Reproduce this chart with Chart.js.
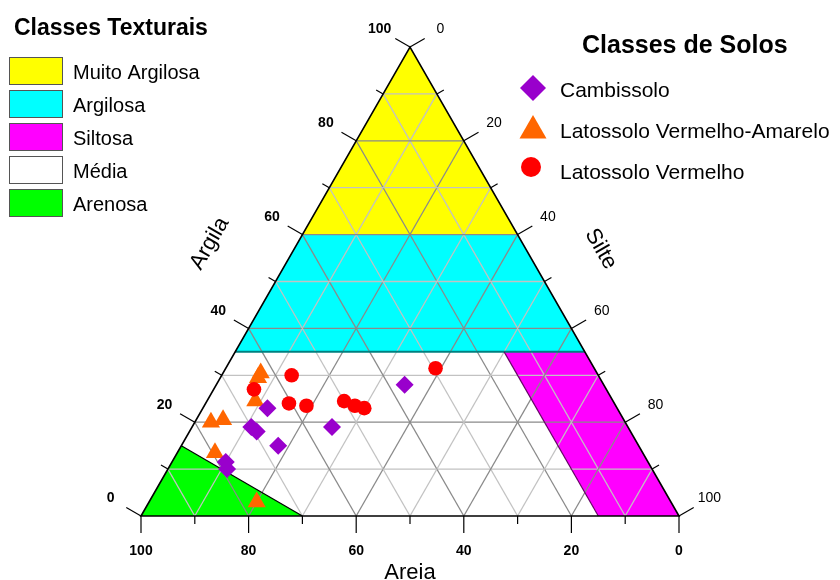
<!DOCTYPE html>
<html>
<head>
<meta charset="utf-8">
<script src="https://cdn.jsdelivr.net/npm/chart.js@4/dist/chart.umd.min.js"></script>
<style>
html, body { margin: 0; padding: 0; background: #fff; }
#wrap { width: 840px; height: 580px; }
</style>
</head>
<body>
<div id="wrap"><canvas id="myChart" width="840" height="580"></canvas></div>
<script>
// soil samples, % of Areia / Silte / Argila
var cambAreia  = [37, 65, 70, 69.5, 67, 55, 78.5, 79];
var cambSilte  = [35, 12, 11, 12.5, 18, 26, 10, 11];
var cambArgila = [28, 23, 19, 18, 15, 19, 11.5, 10];

var lvaAreia  = [62.5, 63.5, 66.5, 77, 74.5, 79.5, 77];
var lvaSilte  = [7, 7, 9, 3, 5, 7, 20];
var lvaArgila = [30.5, 29.5, 24.5, 20, 20.5, 13.5, 3];

var lvAreia  = [57, 65.5, 60.5, 57.5, 50, 48.5, 47, 29.5];
var lvSilte  = [13, 7.5, 15.5, 19, 25.5, 28, 30, 39];
var lvArgila = [30, 27, 24, 23.5, 24.5, 23.5, 23, 31.5];

var soilClasses = ['Cambissolo', 'Latossolo Vermelho-Amarelo', 'Latossolo Vermelho'];
var soilColors = ['#9900CC', '#FF6600', '#FF0000'];

// textural classes, corners as [areia, silte, argila]
var classNames = ['Muito Argilosa', 'Argilosa', 'Siltosa', 'Média', 'Arenosa'];
var classColors = ['#FFFF00', '#00FFFF', '#FF00FF', '#FFFFFF', '#00FF00'];
var classShapes = [
    [[40, 0, 60], [0, 40, 60], [0, 0, 100]],
    [[65, 0, 35], [0, 65, 35], [0, 40, 60], [40, 0, 60]],
    [[15, 85, 0], [0, 100, 0], [0, 65, 35], [15, 50, 35]],
    [[70, 30, 0], [15, 85, 0], [15, 50, 35], [65, 0, 35], [85, 0, 15]],
    [[100, 0, 0], [70, 30, 0], [85, 0, 15]]
];

var tickValues = [0, 10, 20, 30, 40, 50, 60, 70, 80, 90, 100];

function toXY(areia, silte, argila) {
    var pts = [];
    for (var i = 0; i < areia.length; i++) {
        pts.push({ x: silte[i] + argila[i] / 2, y: argila[i] });
    }
    return pts;
}

// chart.js keeps ~10.5px round the plot for the biggest marker
var inset = 10.5;
var xMin = -(141 - inset) / 5.38, xMax = (840 - inset - 141) / 5.38;
var yMin = -(580 - inset - 516) / 4.69, yMax = (516 - inset) / 4.69;

var ternary = {
    id: 'ternary',
    beforeDatasetsDraw: function(chart) {
        var ctx = chart.ctx, xs = chart.scales.x, ys = chart.scales.y;
        function p(a, s, c) { return [xs.getPixelForValue(s + c / 2), ys.getPixelForValue(c)]; }
        function line(q1, q2) {
            ctx.beginPath(); ctx.moveTo(q1[0], q1[1]); ctx.lineTo(q2[0], q2[1]); ctx.stroke();
        }
        ctx.save();
        // class areas
        classShapes.forEach(function(shape, i) {
            ctx.beginPath();
            shape.forEach(function(c, j) {
                var q = p(c[0], c[1], c[2]);
                if (j === 0) ctx.moveTo(q[0], q[1]); else ctx.lineTo(q[0], q[1]);
            });
            ctx.closePath();
            ctx.fillStyle = classColors[i];
            ctx.fill();
        });
        // grid
        ctx.lineWidth = 1.3;
        for (var k = 10; k < 100; k += 10) {
            ctx.strokeStyle = (k % 20 === 0) ? '#8a8a8a' : '#c2c2c2';
            line(p(100 - k, 0, k), p(0, 100 - k, k));
            line(p(100 - k, k, 0), p(0, k, 100 - k));
            line(p(k, 100 - k, 0), p(k, 0, 100 - k));
        }
        // class borders
        ctx.lineWidth = 2;
        ctx.strokeStyle = '#008080';
        line(p(65, 0, 35), p(0, 65, 35));
        ctx.lineWidth = 1.2;
        ctx.strokeStyle = '#660066';
        line(p(15, 85, 0), p(15, 50, 35));
        ctx.strokeStyle = '#000';
        line(p(70, 30, 0), p(85, 0, 15));
        // outer triangle
        ctx.lineWidth = 1.6;
        ctx.strokeStyle = '#000';
        var A = p(100, 0, 0), B = p(0, 100, 0), C = p(0, 0, 100);
        ctx.beginPath(); ctx.moveTo(A[0], A[1]); ctx.lineTo(B[0], B[1]); ctx.lineTo(C[0], C[1]); ctx.closePath(); ctx.stroke();
        // ticks and labels
        var nL = [-0.866, -0.5], nR = [0.866, -0.5], nB = [0, 1];
        ctx.lineWidth = 1.2;
        ctx.textAlign = 'center';
        ctx.textBaseline = 'middle';
        ctx.fillStyle = '#000';
        tickValues.forEach(function(v) {
            var len = (v % 20 === 0) ? 17 : 8;
            var qb = p(v, 100 - v, 0);
            var ql = p(100 - v, 0, v);
            var qr = p(0, v, 100 - v);
            [[qb, nB], [ql, nL], [qr, nR]].forEach(function(t) {
                line(t[0], [t[0][0] + t[1][0] * len, t[0][1] + t[1][1] * len]);
            });
            if (v % 20 === 0) {
                ctx.font = 'bold 14px "Liberation Sans", Arial, sans-serif';
                ctx.fillText(String(v), qb[0], qb[1] + 35);
                ctx.fillText(String(v), ql[0] + nL[0] * 35, ql[1] + nL[1] * 35);
                ctx.font = '14px "Liberation Sans", Arial, sans-serif';
                ctx.fillText(String(v), qr[0] + nR[0] * 35, qr[1] + nR[1] * 35);
            }
        });
        // axis titles
        ctx.font = '22px "Liberation Sans", Arial, sans-serif';
        var mb = p(50, 50, 0);
        ctx.textBaseline = 'alphabetic';
        ctx.fillText('Areia', mb[0], 579);
        ctx.textBaseline = 'middle';
        var ml = p(50, 0, 50);
        ctx.save();
        ctx.translate(ml[0] + nL[0] * 76, ml[1] + nL[1] * 76);
        ctx.rotate(-Math.PI / 3);
        ctx.fillText('Argila', 0, 0);
        ctx.restore();
        var mr = p(0, 50, 50);
        ctx.save();
        ctx.translate(mr[0] + nR[0] * 65, mr[1] + nR[1] * 65);
        ctx.rotate(Math.PI / 3);
        ctx.fillText('Silte', 0, 0);
        ctx.restore();
        ctx.restore();
    },
    afterDraw: function(chart) {
        var ctx = chart.ctx;
        ctx.save();
        ctx.fillStyle = '#000';
        ctx.textAlign = 'left';
        ctx.textBaseline = 'alphabetic';
        ctx.font = 'bold 23px "Liberation Sans", Arial, sans-serif';
        ctx.fillText('Classes Texturais', 14, 35);
        ctx.font = '20px "Liberation Sans", Arial, sans-serif';
        classNames.forEach(function(name, i) {
            var top = 57.5 + i * 33;
            ctx.fillStyle = classColors[i];
            ctx.fillRect(9.5, top, 53, 27);
            ctx.strokeStyle = '#555';
            ctx.lineWidth = 1;
            ctx.strokeRect(9.5, top, 53, 27);
            ctx.fillStyle = '#000';
            ctx.fillText(name, 73, top + 21);
        });
        ctx.font = 'bold 25px "Liberation Sans", Arial, sans-serif';
        ctx.fillText('Classes de Solos', 582, 53);
        ctx.font = '21px "Liberation Sans", Arial, sans-serif';
        var ys = [97, 138, 179];
        soilClasses.forEach(function(name, i) {
            ctx.fillStyle = soilColors[i];
            ctx.beginPath();
            if (i === 0) {
                ctx.moveTo(533, 75); ctx.lineTo(546, 88); ctx.lineTo(533, 101); ctx.lineTo(520, 88);
            } else if (i === 1) {
                ctx.moveTo(533, 115); ctx.lineTo(546.5, 138.5); ctx.lineTo(519.5, 138.5);
            } else {
                ctx.arc(531, 167, 10, 0, Math.PI * 2);
            }
            ctx.closePath();
            ctx.fill();
            ctx.fillStyle = '#000';
            ctx.fillText(name, 560, ys[i]);
        });
        ctx.restore();
    }
};

var ctx = document.getElementById('myChart').getContext('2d');
var myChart = new Chart(ctx, {
    type: 'scatter',
    data: {
        datasets: [{
            label: soilClasses[2],
            data: toXY(lvAreia, lvSilte, lvArgila),
            pointStyle: 'circle',
            pointRadius: 7.3,
            pointHoverRadius: 7.3,
            backgroundColor: soilColors[2],
            borderWidth: 0,
            order: 0
        }, {
            label: soilClasses[0],
            data: toXY(cambAreia, cambSilte, cambArgila),
            pointStyle: 'rectRot',
            pointRadius: 9,
            pointHoverRadius: 9,
            backgroundColor: soilColors[0],
            borderWidth: 0,
            order: 1
        }, {
            label: soilClasses[1],
            data: toXY(lvaAreia, lvaSilte, lvaArgila),
            pointStyle: 'triangle',
            pointRadius: 10.5,
            pointHoverRadius: 10.5,
            backgroundColor: soilColors[1],
            borderWidth: 0,
            order: 2
        }]
    },
    options: {
        responsive: false,
        animation: false,
        layout: { padding: 0 },
        plugins: { legend: { display: false }, tooltip: { enabled: false } },
        scales: {
            x: { type: 'linear', min: xMin, max: xMax, display: false },
            y: { type: 'linear', min: yMin, max: yMax, display: false }
        }
    },
    plugins: [ternary]
});
</script>
</body>
</html>
